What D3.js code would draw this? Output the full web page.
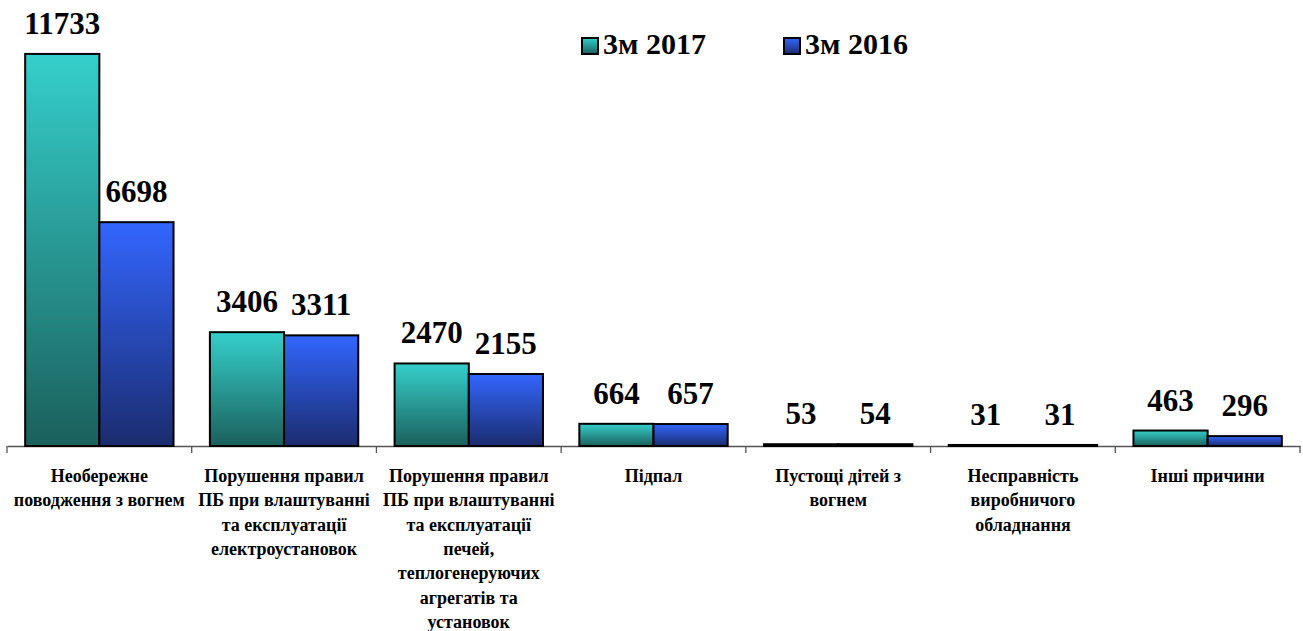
<!DOCTYPE html>
<html>
<head>
<meta charset="utf-8">
<script src="https://cdn.jsdelivr.net/npm/d3@7"></script>
<style>
  html, body { margin: 0; padding: 0; background: #fff; }
</style>
</head>
<body>
<svg id="chart" width="1303" height="631"></svg>
<script>
// categories (line breaks as in the original layout)
var categories = [
    "Необережне\nповодження з вогнем",
    "Порушення правил\nПБ при влаштуванні\nта експлуатації\nелектроустановок",
    "Порушення правил\nПБ при влаштуванні\nта експлуатації\nпечей,\nтеплогенеруючих\nагрегатів та\nустановок",
    "Підпал",
    "Пустощі дітей з\nвогнем",
    "Несправність\nвиробничого\nобладнання",
    "Інші причини"
];
var seriesNames = ["3м 2017", "3м 2016"];
var values2017 = [11733, 3406, 2470, 664, 53, 31, 463];
var values2016 = [6698, 3311, 2155, 657, 54, 31, 296];

var fontFamily = "Liberation Serif";

var svg = d3.select("#chart")
    .style("display", "block")
    .style("font-family", fontFamily)
    .style("font-weight", "bold");

// gradients, one per series
var gradColors = [
    {id: "g2017", top: "#35cfcb", bottom: "#1b605c"},
    {id: "g2016", top: "#3366ff", bottom: "#1b2c6e"}
];
var defs = svg.append("defs");
gradColors.forEach(function (g) {
    var lg = defs.append("linearGradient")
        .attr("id", g.id)
        .attr("x1", 0).attr("y1", 0)
        .attr("x2", 0).attr("y2", 1);
    lg.append("stop").attr("offset", "0%").attr("stop-color", g.top);
    lg.append("stop").attr("offset", "100%").attr("stop-color", g.bottom);
});

var data = categories.map(function (c, i) {
    return {cat: c, vals: [values2017[i], values2016[i]]};
});

var x0 = d3.scaleBand()
    .domain(categories)
    .range([7, 1300])
    .paddingInner(0)
    .paddingOuter(0);

var x1 = d3.scaleBand()
    .domain(seriesNames)
    .range([0, x0.bandwidth()])
    .paddingInner(0)
    .paddingOuter(0.245);

var y = d3.scaleLinear()
    .domain([0, 12000])
    .range([446, 45]);

// axis (no tick labels, ticks drawn at the category boundaries)
var xaxis = d3.axisBottom(x0)
    .tickSize(0)
    .tickFormat("");

var axisG = svg.append("g")
    .attr("transform", "translate(0, 446)")
    .call(xaxis);
axisG.attr("font-family", null);
axisG.select(".domain").attr("stroke", "#555").attr("stroke-width", 1.3);

var bounds = categories.map(function (c) { return x0(c); }).concat([x0.range()[1]]);
axisG.selectAll(".bound").data(bounds).enter()
    .append("line")
    .attr("x1", function (d) { return d; })
    .attr("x2", function (d) { return d; })
    .attr("y1", 0)
    .attr("y2", 7)
    .attr("stroke", "#555")
    .attr("stroke-width", 1.3);

// bars
var groups = svg.selectAll("g.cat").data(data).enter()
    .append("g")
    .attr("class", "cat")
    .attr("transform", function (d) { return "translate(" + x0(d.cat) + ",0)"; });

groups.selectAll("rect").data(function (d) {
        return d.vals.map(function (v, i) { return {s: seriesNames[i], v: v, i: i}; });
    }).enter()
    .append("rect")
    .attr("x", function (d) { return x1(d.s); })
    .attr("y", function (d) { return y(d.v); })
    .attr("width", x1.bandwidth())
    .attr("height", function (d) { return y(0) - y(d.v); })
    .attr("fill", function (d) { return "url(#" + gradColors[d.i].id + ")"; })
    .attr("stroke", "#000")
    .attr("stroke-width", 2);

groups.selectAll("text.val").data(function (d) {
        return d.vals.map(function (v, i) { return {s: seriesNames[i], v: v}; });
    }).enter()
    .append("text")
    .attr("class", "val")
    .attr("x", function (d) { return x1(d.s) + x1.bandwidth() / 2; })
    .attr("y", function (d) { return y(d.v) - 20; })
    .attr("text-anchor", "middle")
    .style("font-family", fontFamily)
    .style("font-weight", "bold")
    .style("font-size", "31px")
    .text(function (d) { return d.v; });

// category labels
var labels = svg.selectAll("text.catlabel").data(categories).enter()
    .append("text")
    .attr("class", "catlabel")
    .attr("text-anchor", "middle")
    .style("font-family", fontFamily)
    .style("font-weight", "bold")
    .style("font-size", "18px")
    .attr("transform", function (d) { return "translate(" + (x0(d) + x0.bandwidth() / 2) + ",482)"; });

labels.selectAll("tspan").data(function (d) { return d.split("\n"); }).enter()
    .append("tspan")
    .attr("x", 0)
    .attr("y", function (d, i) { return i * 24.3; })
    .text(function (d) { return d; });

// legend
var legendX = [581, 783];
var legend = svg.selectAll("g.legend").data(seriesNames).enter()
    .append("g")
    .attr("class", "legend")
    .attr("transform", function (d, i) { return "translate(" + legendX[i] + ",37)"; });

legend.append("rect")
    .attr("x", 1)
    .attr("y", 1)
    .attr("width", 16)
    .attr("height", 16)
    .attr("fill", function (d, i) { return "url(#" + gradColors[i].id + ")"; })
    .attr("stroke", "#000")
    .attr("stroke-width", 2);

legend.append("text")
    .attr("x", 22)
    .attr("y", 17)
    .style("font-family", fontFamily)
    .style("font-weight", "bold")
    .style("font-size", "30px")
    .text(function (d) { return d; });
</script>
</body>
</html>
